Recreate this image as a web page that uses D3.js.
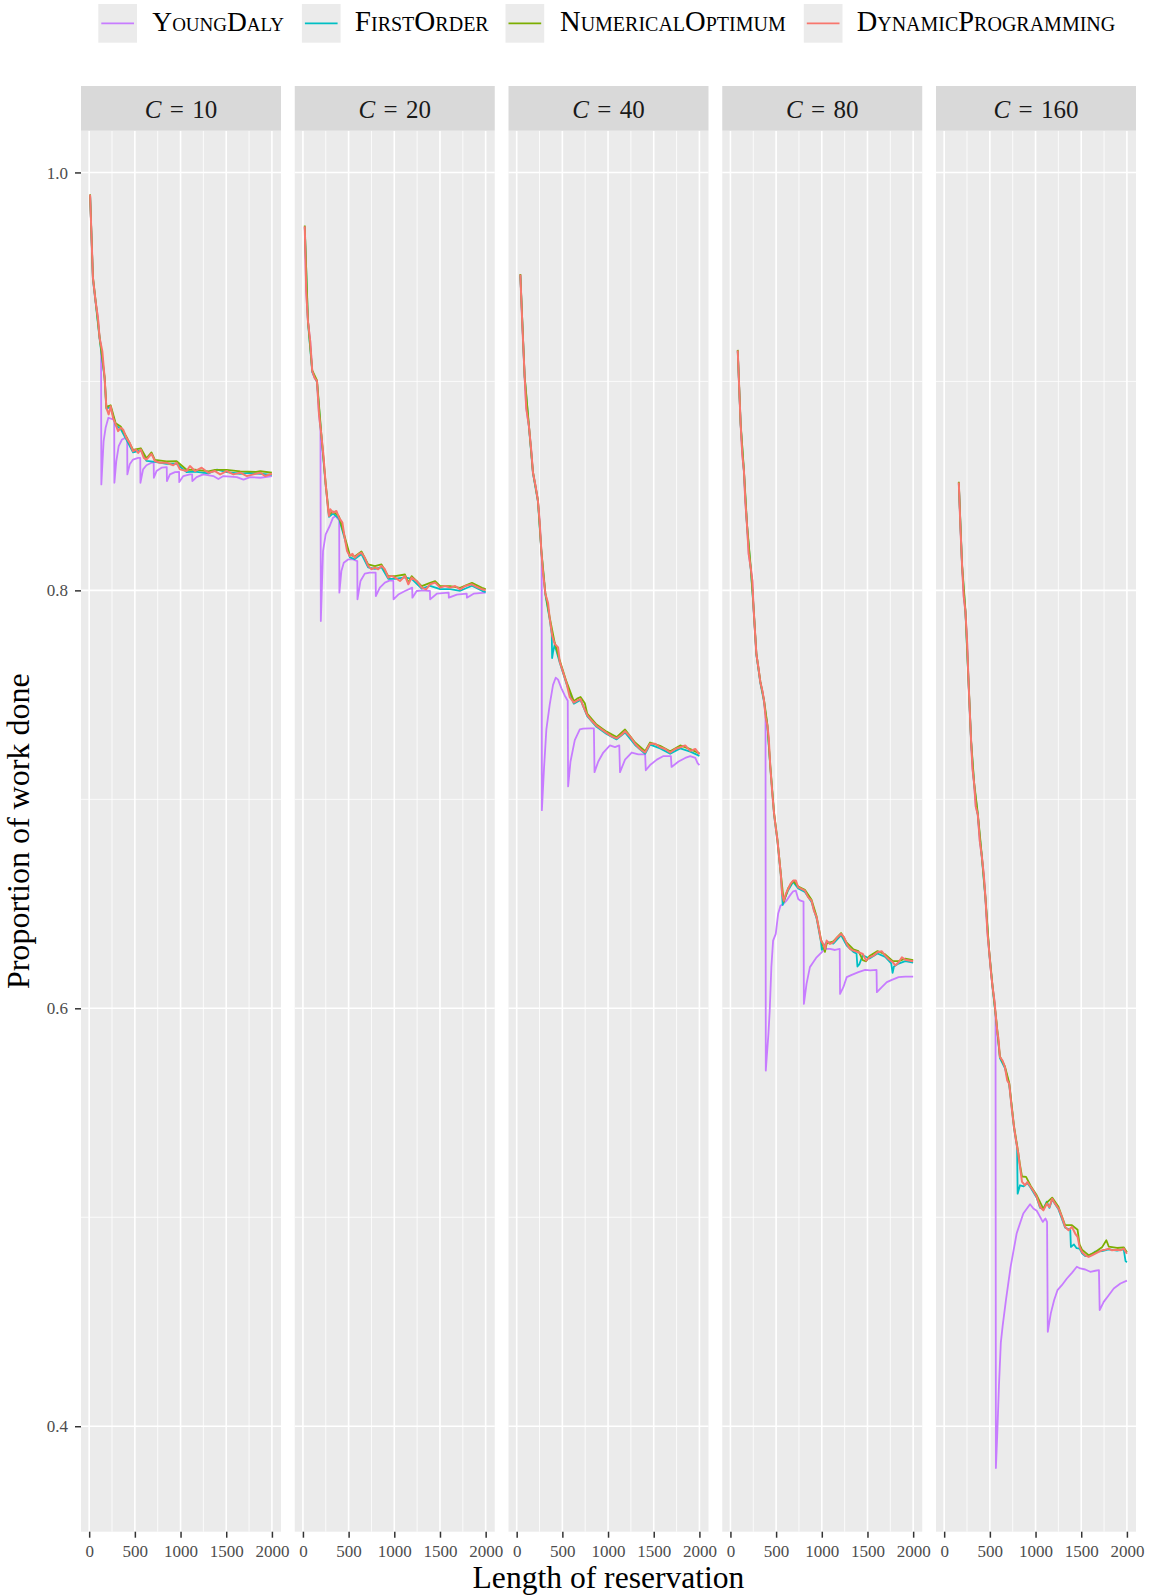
<!DOCTYPE html>
<html><head><meta charset="utf-8">
<script src="https://cdn.jsdelivr.net/npm/d3@7"></script>
<style>body{margin:0;background:#fff}svg{display:block}text{font-family:"Liberation Serif","DejaVu Serif",serif}</style>
</head><body><svg id="chart" width="1157" height="1596"></svg>
<script>
// ---------- data ----------
const capacities = [10, 20, 40, 80, 160];
const seriesNames = ["YoungDaly", "FirstOrder", "NumericalOptimum", "DynamicProgramming"];
const seriesColors = ["#C77CFF", "#00BFC4", "#7CAE00", "#F8766D"];
const xTicks = [0, 500, 1000, 1500, 2000];
const xMinor = [250, 750, 1250, 1750];
const yTicks = [0.4, 0.6, 0.8, 1.0];
const yMinor = [0.5, 0.7, 0.9];

// C = 10
const yd10 = [[10,0.9893],[41,0.9495],[70,0.9383],[96,0.9304],[114,0.9208],[130,0.9170],[133,0.8507],[158,0.8714],[180,0.8778],[210,0.8826],[261,0.8818],[274,0.8815],[276,0.8515],[297,0.8619],[323,0.8690],[359,0.8722],[396,0.8730],[416,0.8728],[418,0.8555],[444,0.8603],[480,0.8626],[536,0.8634],[559,0.8634],[561,0.8515],[590,0.8579],[627,0.8599],[682,0.8611],[706,0.8611],[708,0.8539],[737,0.8571],[792,0.8587],[849,0.8590],[851,0.8523],[884,0.8555],[939,0.8566],[984,0.8567],[986,0.8518],[1030,0.8547],[1103,0.8555],[1127,0.8555],[1129,0.8523],[1176,0.8542],[1249,0.8555],[1359,0.8547],[1414,0.8533],[1469,0.8547],[1616,0.8542],[1689,0.8530],[1762,0.8542],[1873,0.8539],[2000,0.8547]];
const fo10 = [[10,0.9890],[41,0.9490],[70,0.9380],[114,0.9205],[169,0.9015],[188,0.8870],[235,0.8878],[290,0.8790],[345,0.8772],[407,0.8722],[480,0.8660],[565,0.8670],[627,0.8620],[719,0.8615],[847,0.8606],[957,0.8606],[1066,0.8566],[1158,0.8568],[1304,0.8560],[1400,0.8578],[1506,0.8566],[1653,0.8558],[1750,0.8562],[1873,0.8558],[2000,0.8553]];
const no10 = [[10,0.9895],[41,0.9500],[70,0.9388],[114,0.9212],[169,0.9022],[188,0.8878],[235,0.8886],[290,0.8800],[345,0.8784],[407,0.8735],[480,0.8672],[565,0.8680],[627,0.8632],[682,0.8660],[719,0.8625],[847,0.8617],[957,0.8618],[1066,0.8577],[1158,0.8578],[1304,0.8569],[1378,0.8577],[1506,0.8577],[1653,0.8569],[1826,0.8567],[1873,0.8570],[2000,0.8563]];
const dp10 = [[10,0.9893],[41,0.9495],[70,0.9383],[96,0.9304],[114,0.9208],[144,0.9144],[169,0.9017],[188,0.8873],[213,0.8842],[235,0.8881],[261,0.8826],[290,0.8794],[316,0.8762],[345,0.8778],[371,0.8770],[407,0.8730],[444,0.8706],[480,0.8666],[510,0.8674],[536,0.8658],[565,0.8674],[598,0.8634],[627,0.8626],[682,0.8653],[719,0.8619],[774,0.8611],[847,0.8611],[920,0.8599],[957,0.8611],[993,0.8579],[1066,0.8571],[1103,0.8595],[1158,0.8571],[1231,0.8587],[1304,0.8563],[1378,0.8571],[1433,0.8555],[1506,0.8571],[1579,0.8555],[1653,0.8563],[1726,0.8547],[1799,0.8555],[1873,0.8563],[1927,0.8547],[2000,0.8558]];

// C = 20
const yd20 = [[20,0.9742],[36,0.9431],[55,0.9288],[80,0.9192],[102,0.9049],[128,0.9017],[154,0.9001],[176,0.8842],[192,0.8770],[196,0.7853],[220,0.8188],[249,0.8268],[293,0.8308],[329,0.8348],[359,0.8356],[388,0.8340],[397,0.8336],[399,0.7989],[421,0.8093],[447,0.8132],[494,0.8148],[549,0.8148],[595,0.8140],[597,0.7957],[630,0.8045],[677,0.8080],[732,0.8085],[796,0.8085],[798,0.7973],[842,0.8013],[897,0.8037],[952,0.8048],[990,0.8045],[992,0.7957],[1044,0.7980],[1117,0.7997],[1196,0.8013],[1198,0.7965],[1245,0.7997],[1319,0.8000],[1390,0.7997],[1392,0.7957],[1465,0.7984],[1595,0.7989],[1597,0.7965],[1685,0.7980],[1793,0.7984],[1795,0.7965],[1868,0.7984],[2000,0.7989]];
const fo20 = [[20,0.9738],[55,0.9284],[102,0.9045],[154,0.8997],[201,0.8742],[249,0.8503],[285,0.8352],[329,0.8368],[395,0.8344],[457,0.8248],[512,0.8158],[567,0.8150],[641,0.8174],[714,0.8110],[787,0.8103],[860,0.8110],[934,0.8055],[1007,0.8055],[1117,0.8062],[1190,0.8055],[1300,0.8008],[1392,0.8022],[1502,0.8006],[1611,0.8006],[1721,0.7998],[1850,0.8022],[1960,0.7998],[2000,0.7992]];
const no20 = [[20,0.9746],[55,0.9292],[102,0.9053],[154,0.9005],[201,0.8750],[249,0.8511],[285,0.8362],[329,0.8378],[395,0.8354],[457,0.8258],[512,0.8170],[567,0.8162],[641,0.8186],[714,0.8124],[787,0.8116],[860,0.8124],[934,0.8068],[1007,0.8068],[1117,0.8076],[1154,0.8036],[1190,0.8068],[1300,0.8020],[1392,0.8036],[1447,0.8044],[1502,0.8020],[1611,0.8020],[1721,0.8012],[1850,0.8036],[1960,0.8012],[2000,0.8006]];
const dp20 = [[20,0.9742],[36,0.9431],[55,0.9288],[80,0.9192],[102,0.9049],[128,0.9017],[154,0.9001],[176,0.8842],[201,0.8746],[227,0.8634],[249,0.8507],[274,0.8395],[285,0.8356],[300,0.8388],[329,0.8372],[366,0.8380],[395,0.8348],[432,0.8324],[457,0.8252],[483,0.8188],[512,0.8164],[542,0.8175],[567,0.8156],[604,0.8172],[641,0.8180],[677,0.8156],[714,0.8117],[750,0.8101],[787,0.8109],[823,0.8101],[860,0.8117],[897,0.8101],[934,0.8061],[970,0.8069],[1007,0.8061],[1062,0.8045],[1117,0.8069],[1154,0.8029],[1190,0.8061],[1245,0.8045],[1300,0.8013],[1348,0.8005],[1392,0.8029],[1447,0.8037],[1502,0.8013],[1556,0.8021],[1611,0.8013],[1666,0.8021],[1721,0.8005],[1776,0.8021],[1850,0.8029],[1905,0.8016],[1960,0.8005],[2000,0.8001]];

// C = 40
const yd40 = [[40,0.9511],[61,0.9281],[87,0.9025],[105,0.8871],[134,0.8786],[160,0.8666],[178,0.8564],[208,0.8496],[233,0.8427],[252,0.8325],[270,0.8188],[274,0.8150],[276,0.6948],[299,0.7147],[325,0.7335],[362,0.7454],[398,0.7548],[427,0.7582],[453,0.7573],[490,0.7531],[526,0.7497],[559,0.7472],[563,0.7062],[589,0.7181],[636,0.7283],[691,0.7335],[728,0.7338],[801,0.7340],[845,0.7340],[852,0.7130],[893,0.7181],[948,0.7224],[1021,0.7258],[1076,0.7250],[1123,0.7258],[1131,0.7130],[1186,0.7190],[1259,0.7224],[1332,0.7215],[1406,0.7215],[1413,0.7139],[1460,0.7164],[1534,0.7190],[1607,0.7207],[1688,0.7207],[1695,0.7155],[1772,0.7181],[1845,0.7198],[1900,0.7207],[1955,0.7198],[1980,0.7173],[2000,0.7164]];
const fo40 = [[40,0.9508],[87,0.9022],[134,0.8783],[178,0.8561],[233,0.8424],[270,0.8185],[314,0.7980],[362,0.7860],[384,0.7790],[388,0.7676],[398,0.7705],[416,0.7740],[471,0.7655],[545,0.7553],[625,0.7458],[699,0.7476],[772,0.7398],[874,0.7347],[984,0.7313],[1094,0.7287],[1186,0.7320],[1296,0.7260],[1406,0.7218],[1460,0.7262],[1570,0.7244],[1680,0.7218],[1790,0.7244],[1900,0.7228],[2000,0.7208]];
const no40 = [[40,0.9514],[87,0.9028],[134,0.8790],[178,0.8568],[233,0.8431],[270,0.8192],[314,0.7988],[362,0.7870],[416,0.7750],[471,0.7665],[545,0.7563],[625,0.7470],[662,0.7482],[699,0.7490],[746,0.7460],[772,0.7410],[874,0.7358],[984,0.7324],[1094,0.7298],[1186,0.7334],[1296,0.7272],[1406,0.7230],[1460,0.7272],[1570,0.7256],[1680,0.7230],[1790,0.7258],[1900,0.7240],[2000,0.7220]];
const dp40 = [[40,0.9511],[61,0.9281],[87,0.9025],[105,0.8871],[134,0.8786],[160,0.8666],[178,0.8564],[208,0.8496],[233,0.8427],[252,0.8325],[270,0.8188],[288,0.8086],[314,0.7983],[343,0.7941],[362,0.7864],[391,0.7779],[416,0.7744],[453,0.7727],[471,0.7659],[508,0.7608],[545,0.7557],[581,0.7489],[625,0.7463],[662,0.7472],[699,0.7480],[728,0.7446],[772,0.7403],[819,0.7377],[874,0.7352],[929,0.7335],[984,0.7318],[1039,0.7301],[1094,0.7292],[1149,0.7309],[1186,0.7326],[1241,0.7301],[1296,0.7266],[1351,0.7241],[1406,0.7224],[1460,0.7266],[1515,0.7266],[1570,0.7249],[1625,0.7241],[1680,0.7224],[1735,0.7241],[1790,0.7249],[1845,0.7258],[1900,0.7232],[1955,0.7241],[2000,0.7215]];

// C = 80
const yd80 = [[80,0.9148],[93,0.9001],[112,0.8794],[130,0.8650],[148,0.8571],[163,0.8427],[181,0.8316],[200,0.8173],[222,0.8109],[240,0.8045],[251,0.7933],[266,0.7822],[284,0.7695],[306,0.7631],[328,0.7559],[350,0.7519],[368,0.7471],[384,0.7400],[387,0.5702],[416,0.5878],[430,0.5989],[448,0.6197],[467,0.6324],[496,0.6356],[522,0.6452],[548,0.6491],[577,0.6499],[613,0.6515],[650,0.6539],[687,0.6560],[716,0.6563],[742,0.6523],[767,0.6515],[800,0.6510],[804,0.6021],[833,0.6117],[870,0.6197],[906,0.6220],[943,0.6244],[998,0.6268],[1035,0.6284],[1090,0.6284],[1145,0.6279],[1196,0.6284],[1200,0.6069],[1236,0.6101],[1273,0.6149],[1328,0.6160],[1401,0.6173],[1474,0.6184],[1529,0.6181],[1599,0.6184],[1603,0.6077],[1657,0.6101],[1712,0.6125],[1767,0.6136],[1841,0.6149],[1914,0.6152],[2000,0.6152]];
const fo80 = [[80,0.9145],[112,0.8790],[148,0.8567],[181,0.8312],[222,0.8105],[251,0.7929],[284,0.7691],[328,0.7555],[368,0.7467],[405,0.7348],[437,0.7149],[478,0.6926],[515,0.6798],[551,0.6639],[566,0.6543],[572,0.6495],[590,0.6520],[632,0.6565],[687,0.6605],[742,0.6573],[815,0.6557],[888,0.6509],[943,0.6430],[991,0.6318],[1000,0.6280],[1016,0.6290],[1053,0.6318],[1126,0.6310],[1211,0.6350],[1273,0.6300],[1346,0.6270],[1380,0.6262],[1390,0.6200],[1410,0.6210],[1449,0.6254],[1522,0.6238],[1610,0.6262],[1694,0.6246],[1760,0.6215],[1775,0.6170],[1790,0.6200],[1841,0.6214],[1914,0.6226],[2000,0.6219]];
const no80 = [[80,0.9151],[112,0.8798],[148,0.8575],[181,0.8320],[222,0.8113],[251,0.7937],[284,0.7699],[328,0.7563],[368,0.7475],[405,0.7356],[437,0.7157],[478,0.6934],[515,0.6806],[551,0.6647],[584,0.6510],[632,0.6575],[687,0.6610],[742,0.6583],[815,0.6567],[888,0.6519],[943,0.6440],[991,0.6330],[1035,0.6270],[1053,0.6310],[1126,0.6320],[1211,0.6360],[1273,0.6314],[1346,0.6282],[1401,0.6274],[1449,0.6230],[1485,0.6225],[1522,0.6250],[1610,0.6274],[1694,0.6258],[1778,0.6226],[1841,0.6226],[1914,0.6238],[2000,0.6231]];
const dp80 = [[80,0.9148],[93,0.9001],[112,0.8794],[130,0.8650],[148,0.8571],[163,0.8427],[181,0.8316],[200,0.8173],[222,0.8109],[240,0.8045],[251,0.7933],[266,0.7822],[284,0.7695],[306,0.7631],[328,0.7559],[350,0.7519],[368,0.7471],[386,0.7391],[405,0.7352],[419,0.7296],[437,0.7153],[459,0.7025],[478,0.6930],[496,0.6866],[515,0.6802],[533,0.6722],[551,0.6643],[566,0.6547],[584,0.6515],[606,0.6547],[632,0.6571],[657,0.6595],[687,0.6611],[716,0.6611],[742,0.6579],[778,0.6571],[815,0.6563],[852,0.6531],[888,0.6515],[914,0.6467],[943,0.6436],[972,0.6372],[991,0.6324],[1016,0.6308],[1035,0.6284],[1053,0.6324],[1090,0.6308],[1126,0.6316],[1170,0.6340],[1211,0.6356],[1243,0.6340],[1273,0.6308],[1309,0.6284],[1346,0.6276],[1401,0.6268],[1449,0.6260],[1485,0.6228],[1522,0.6244],[1566,0.6252],[1610,0.6268],[1657,0.6273],[1694,0.6252],[1731,0.6236],[1778,0.6220],[1804,0.6205],[1841,0.6220],[1877,0.6244],[1914,0.6232],[1969,0.6228],[2000,0.6225]];

// C = 160
const yd160 = [[160,0.8516],[178,0.8301],[196,0.8118],[214,0.7971],[233,0.7898],[251,0.7752],[266,0.7569],[280,0.7423],[295,0.7276],[310,0.7148],[328,0.7075],[346,0.6965],[368,0.6928],[390,0.6800],[412,0.6727],[434,0.6636],[452,0.6526],[474,0.6361],[493,0.6270],[511,0.6178],[529,0.6105],[551,0.6032],[562,0.5965],[566,0.3800],[580,0.3950],[600,0.4200],[620,0.4400],[640,0.4480],[676,0.4603],[727,0.4763],[793,0.4922],[866,0.5018],[940,0.5062],[976,0.5042],[1013,0.5031],[1050,0.5002],[1079,0.4978],[1108,0.4994],[1126,0.4978],[1134,0.4452],[1167,0.4540],[1203,0.4603],[1240,0.4651],[1288,0.4675],[1343,0.4707],[1398,0.4734],[1452,0.4763],[1489,0.4755],[1544,0.4750],[1599,0.4739],[1654,0.4744],[1694,0.4747],[1702,0.4556],[1746,0.4595],[1801,0.4627],[1856,0.4659],[1929,0.4683],[2000,0.4697]];
const fo160 = [[160,0.8512],[196,0.8114],[233,0.7894],[266,0.7565],[295,0.7272],[328,0.7071],[368,0.6924],[412,0.6723],[452,0.6522],[493,0.6266],[529,0.6101],[566,0.5955],[610,0.5762],[665,0.5714],[712,0.5635],[764,0.5428],[798,0.5336],[804,0.5113],[830,0.5153],[870,0.5148],[910,0.5164],[947,0.5141],[1013,0.5093],[1050,0.5045],[1086,0.5040],[1123,0.5075],[1152,0.5045],[1182,0.5085],[1251,0.5038],[1324,0.4950],[1380,0.4940],[1387,0.4858],[1420,0.4870],[1450,0.4852],[1482,0.4850],[1508,0.4828],[1544,0.4814],[1617,0.4822],[1654,0.4836],[1727,0.4838],[1801,0.4846],[1892,0.4841],[1965,0.4846],[1985,0.4790],[2000,0.4785]];
const no160 = [[160,0.8520],[196,0.8122],[233,0.7902],[266,0.7573],[295,0.7280],[328,0.7079],[368,0.6932],[412,0.6731],[452,0.6530],[493,0.6274],[529,0.6109],[566,0.5963],[610,0.5770],[665,0.5722],[712,0.5643],[764,0.5436],[811,0.5309],[830,0.5250],[852,0.5195],[896,0.5193],[947,0.5150],[1013,0.5105],[1086,0.5040],[1123,0.5070],[1182,0.5094],[1251,0.5050],[1324,0.4962],[1398,0.4962],[1460,0.4940],[1482,0.4870],[1508,0.4845],[1581,0.4818],[1654,0.4834],[1727,0.4856],[1775,0.4890],[1801,0.4860],[1892,0.4853],[1965,0.4856],[2000,0.4833]];
const dp160 = [[160,0.8516],[178,0.8301],[196,0.8118],[214,0.7971],[233,0.7898],[251,0.7752],[266,0.7569],[280,0.7423],[295,0.7276],[310,0.7148],[328,0.7075],[346,0.6965],[368,0.6928],[390,0.6800],[412,0.6727],[434,0.6636],[452,0.6526],[474,0.6361],[493,0.6270],[511,0.6178],[529,0.6105],[551,0.6032],[566,0.5959],[584,0.5877],[592,0.5862],[610,0.5766],[639,0.5750],[665,0.5718],[690,0.5655],[712,0.5639],[738,0.5527],[764,0.5432],[786,0.5368],[811,0.5305],[830,0.5241],[852,0.5169],[885,0.5153],[910,0.5169],[947,0.5145],[984,0.5121],[1013,0.5097],[1050,0.5049],[1086,0.5033],[1123,0.5065],[1152,0.5049],[1182,0.5089],[1214,0.5065],[1251,0.5042],[1288,0.5002],[1324,0.4954],[1361,0.4938],[1398,0.4954],[1434,0.4922],[1460,0.4906],[1482,0.4858],[1508,0.4834],[1544,0.4818],[1581,0.4810],[1617,0.4818],[1654,0.4826],[1691,0.4834],[1727,0.4842],[1764,0.4845],[1801,0.4850],[1837,0.4842],[1892,0.4845],[1929,0.4842],[1965,0.4850],[2000,0.4825]];

const panelSeries = [
  [yd10, fo10, no10, dp10],
  [yd20, fo20, no20, dp20],
  [yd40, fo40, no40, dp40],
  [yd80, fo80, no80, dp80],
  [yd160, fo160, no160, dp160]
];

// ---------- layout ----------
const svg = d3.select("#chart");
const panelW = 200, panelTop = 130.7, panelBot = 1531.7, stripTop = 86;
const panelLeft0 = 81, panelStep = 213.75;

const allPts = panelSeries.flat(2);
const xExt = d3.extent(allPts, d => d[0]);
const yExt = d3.extent(allPts, d => d[1]);
const xPad = (xExt[1] - xExt[0]) * 0.05, yPad = (yExt[1] - yExt[0]) * 0.05;
const x = d3.scaleLinear().domain([xExt[0] - xPad, xExt[1] + xPad]).range([0, panelW]);
const y = d3.scaleLinear().domain([yExt[0] - yPad, yExt[1] + yPad]).range([panelBot, panelTop]);

const line = d3.line().x(d => x(d[0])).y(d => y(d[1]));

capacities.forEach((C, i) => {
  const left = panelLeft0 + i * panelStep;
  const g = svg.append("g").attr("transform", `translate(${left},0)`);
  g.append("rect").attr("x", 0).attr("y", panelTop).attr("width", panelW).attr("height", panelBot - panelTop).attr("fill", "#EBEBEB");
  g.selectAll(".ymin").data(yMinor).enter().append("line")
    .attr("x1", 0).attr("x2", panelW).attr("y1", d => y(d)).attr("y2", d => y(d))
    .attr("stroke", "#fff").attr("stroke-width", 0.8);
  g.selectAll(".xmin").data(xMinor).enter().append("line")
    .attr("y1", panelTop).attr("y2", panelBot).attr("x1", d => x(d)).attr("x2", d => x(d))
    .attr("stroke", "#fff").attr("stroke-width", 0.8);
  g.selectAll(".ymaj").data(yTicks).enter().append("line")
    .attr("x1", 0).attr("x2", panelW).attr("y1", d => y(d)).attr("y2", d => y(d))
    .attr("stroke", "#fff").attr("stroke-width", 1.6);
  g.selectAll(".xmaj").data(xTicks).enter().append("line")
    .attr("y1", panelTop).attr("y2", panelBot).attr("x1", d => x(d)).attr("x2", d => x(d))
    .attr("stroke", "#fff").attr("stroke-width", 1.6);

  const cid = "clip" + i;
  svg.append("clipPath").attr("id", cid).append("rect")
    .attr("x", 0).attr("y", panelTop).attr("width", panelW).attr("height", panelBot - panelTop);
  const lg = g.append("g").attr("clip-path", `url(#${cid})`);
  panelSeries[i].forEach((pts, s) => {
    lg.append("path").datum(pts).attr("d", line)
      .attr("fill", "none").attr("stroke", seriesColors[s])
      .attr("stroke-width", s === 3 ? 2.0 : 1.8).attr("stroke-linejoin", "round");
  });

  g.append("rect").attr("x", 0).attr("y", stripTop).attr("width", panelW).attr("height", panelTop - stripTop).attr("fill", "#D9D9D9");
  const st = g.append("text").attr("x", panelW / 2).attr("y", 118.3).attr("text-anchor", "middle")
    .attr("font-size", 25).attr("fill", "#1A1A1A");
  st.append("tspan").attr("font-style", "italic").text("C");
  st.append("tspan").text("\u2004=\u2004" + C);

  const xa = g.append("g").attr("transform", `translate(0,${panelBot})`)
    .call(d3.axisBottom(x).tickValues(xTicks).tickSize(6).tickPadding(5).tickFormat(d3.format("d")));
  xa.select(".domain").remove();
  xa.selectAll(".tick line").attr("stroke", "#333333").attr("stroke-width", 1.5);
  xa.selectAll(".tick text").attr("font-size", 17).attr("fill", "#4D4D4D")
    .attr("font-family", "Liberation Serif, serif").attr("dy", null).attr("y", 25);
});

const ya = svg.append("g").attr("transform", `translate(${panelLeft0},0)`)
  .call(d3.axisLeft(y).tickValues(yTicks).tickSize(6).tickPadding(5).tickFormat(d3.format(".1f")));
ya.select(".domain").remove();
ya.selectAll(".tick line").attr("stroke", "#333333").attr("stroke-width", 1.5);
ya.selectAll(".tick text").attr("font-size", 17).attr("fill", "#4D4D4D")
  .attr("font-family", "Liberation Serif, serif").attr("x", -13).attr("dy", "0.33em");

function fitWidth(sel, target) {
  const w = sel.node().getComputedTextLength();
  const fs = parseFloat(sel.attr("font-size"));
  if (w > 0) sel.attr("font-size", fs * target / w);
}

const xt = svg.append("text").attr("x", (panelLeft0 + panelLeft0 + 4 * panelStep + panelW) / 2)
  .attr("y", 1588).attr("text-anchor", "middle").attr("font-size", 28).attr("fill", "#000")
  .text("Length of reservation");
fitWidth(xt, 272);
const yt = svg.append("text").attr("transform", `translate(29,${(panelTop + panelBot) / 2}) rotate(-90)`)
  .attr("text-anchor", "middle").attr("font-size", 28).attr("fill", "#000")
  .text("Proportion of work done");
fitWidth(yt, 316);

const legKeyX = [98.3, 301.9, 505.5, 803.8];
const legTextX = [152.3, 354.8, 560, 856.7];
const legTextW = [134, 137, 228, 260];
const keySize = 38.7, keyTop = 4;
seriesNames.forEach((name, k) => {
  svg.append("rect").attr("x", legKeyX[k]).attr("y", keyTop).attr("width", keySize).attr("height", keySize).attr("fill", "#EBEBEB");
  svg.append("line").attr("x1", legKeyX[k] + 3).attr("x2", legKeyX[k] + keySize - 3)
    .attr("y1", keyTop + keySize / 2).attr("y2", keyTop + keySize / 2)
    .attr("stroke", seriesColors[k]).attr("stroke-width", 1.8);
  const t = svg.append("text").attr("x", legTextX[k]).attr("y", keyTop + keySize / 2 + 8)
    .attr("font-size", 24).attr("fill", "#000").style("font-variant", "small-caps").text(name);
  fitWidth(t, legTextW[k]);
});
</script></body></html>
